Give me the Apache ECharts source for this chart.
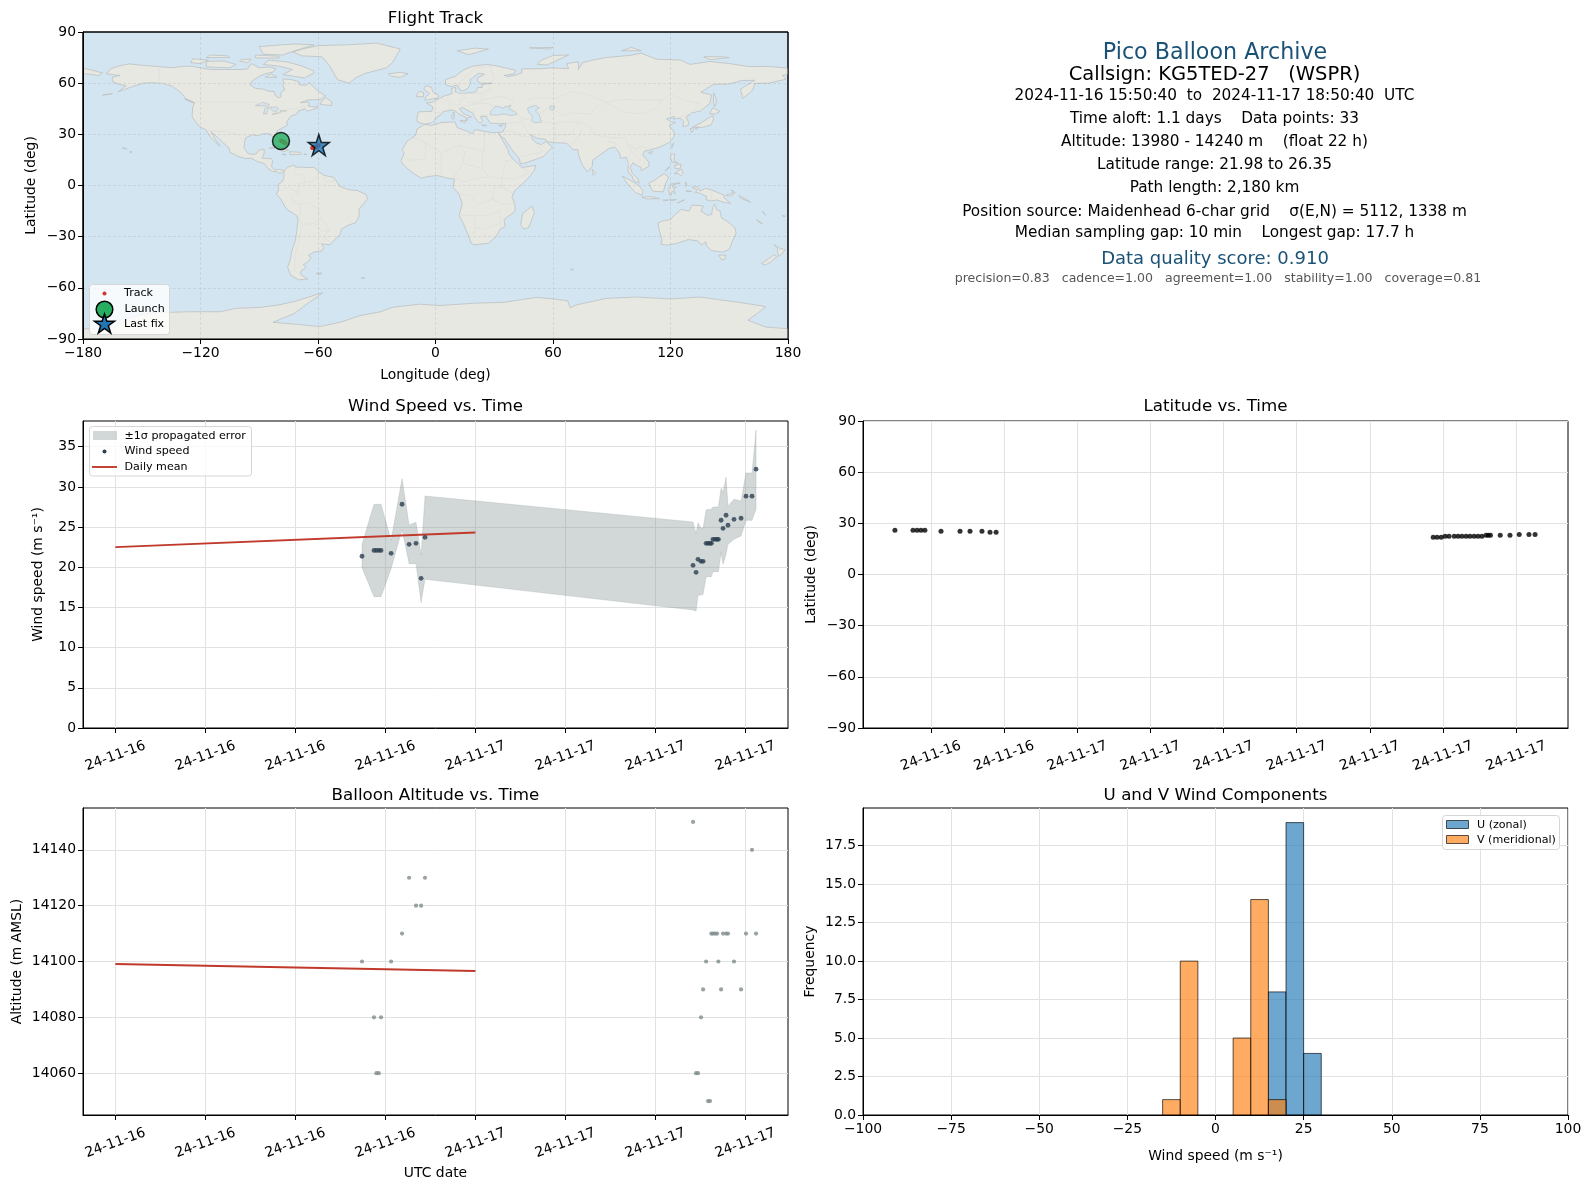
<!DOCTYPE html>
<html><head><meta charset="utf-8">
<style>html,body{margin:0;padding:0;background:#fff}#c{width:1590px;height:1189px}</style>
<script src="https://cdn.jsdelivr.net/npm/echarts@6/dist/echarts.min.js"></script>
</head><body><div id="c"></div>
<script>
// ---------- values ----------
const landPolygons = [
 // North America
 [[-168,65.5],[-166,68.3],[-162,70],[-156.5,71.3],[-150,70.5],[-141,69.7],[-135,69],[-128,70],[-124,69.8],[-115,68],[-108,68],[-100,68],[-96,68.3],[-94,71.5],[-90,69],[-85,69.5],[-81.5,68.5],[-83,66.5],[-87,65.5],[-90,64],[-94,61],[-94.5,58.8],[-92,57],[-88,56.5],[-85,55.3],[-82.3,55.1],[-82,53],[-80,51.3],[-78.8,52.2],[-79,54.5],[-77,56],[-78,58.7],[-77.5,60.5],[-78,62.4],[-74,62.2],[-70,61],[-69.5,59],[-66,58.8],[-64.5,60.3],[-62,57.5],[-60,55.3],[-56,52.5],[-59,50.3],[-65,50.2],[-69,48.5],[-65,49],[-64.5,47.8],[-65,46.5],[-61,46],[-60,46.8],[-60.5,45.5],[-65.5,43.5],[-66.5,45],[-67,44.8],[-70,43.7],[-70.7,42],[-74,40.6],[-75.5,38],[-76,36.8],[-75.7,35.3],[-78,33.9],[-81,32],[-81.4,30],[-80,26.8],[-80.4,25.2],[-81.8,26],[-82.8,28],[-84,30],[-86,30.4],[-89,30.2],[-90,29.1],[-93.5,29.7],[-97,28],[-97.5,25],[-97.8,22.3],[-96,19],[-94,18.2],[-91.5,18.5],[-90.5,20.5],[-87.5,21.4],[-87.5,19],[-88.5,16],[-84,15.8],[-83.2,14.8],[-83.7,11],[-82,9],[-79.5,9.5],[-77.3,8.5],[-78,7.5],[-80,7.3],[-81,8],[-83,8.3],[-85.5,10],[-87.5,13],[-91,14],[-94,16],[-97,15.8],[-101,17.2],[-105,19.5],[-105.5,22],[-109,25.7],[-112.5,29.5],[-114.7,31.5],[-113,28],[-110,23],[-112,25],[-115,28.5],[-117.2,32.6],[-120.5,34.5],[-122.5,37.5],[-124.3,40.3],[-124,46],[-123,48.5],[-127.5,51],[-130,54.5],[-134,58],[-139,59.8],[-145,60.3],[-149,60],[-152,59],[-156,57.5],[-162,55],[-158,58.5],[-162,59.5],[-165,61],[-165,63.5],[-161,64.5]],
 // Greenland and the Arctic islands
 [[-73,78.2],[-68,76],[-58,75.5],[-54,70],[-52,66],[-50,62],[-44,60],[-41,63],[-36,65.7],[-25,69],[-22,72],[-20,76],[-18,80],[-30,83.5],[-45,82.5],[-60,82],[-68,80]],
 [[-62,66],[-67,63],[-72,64],[-78,65],[-73,68],[-80,70],[-88,71],[-85,73.5],[-76,72.5],[-68,70],[-62,67]],
 [[-62,82.5],[-72,83],[-90,81.5],[-88,77],[-78,76.5],[-72,79]],
 [[-105,69],[-117,69.5],[-117,72.8],[-108,73],[-102,71]],
 [[-120,71.5],[-125,72],[-124,74.3],[-116,73.5]],
 [[-80,74.7],[-92,74.8],[-92,76.5],[-80,75.8]],
 [[-105,75],[-117,75],[-115,76.5],[-106,76]],
 [[-100,73],[-96,72],[-94,74],[-99,74]],
 [[-87,63.5],[-81,63.5],[-84,65.5]],
 [[-59,47.7],[-53,46.8],[-53,49],[-56,51.5],[-58,49.5]],
 [[-128,50.7],[-123.5,48.4],[-125,49]],
 [[-170,53],[-165,54],[-166,53.5]],
 // Caribbean, Hawaii
 [[-85,21.8],[-80,23],[-75,20.7],[-77.5,19.9],[-81,22]],
 [[-74.5,19.8],[-69,19.5],[-68.5,18.3],[-74.3,18.2]],
 [[-78.3,18.4],[-76.3,18.1],[-77,17.8]],
 [[-67.2,18.4],[-65.7,18.3],[-66,18]],
 [[-156,20],[-155,19.7],[-155.7,19]],
 [[-160,22],[-157.7,21.4],[-158.5,21.8]],
 // South America
 [[-77.3,8.5],[-75.5,10.7],[-72,12],[-71.5,10.8],[-68,10.7],[-64,10.5],[-62,10.7],[-60,8.5],[-57,6],[-52,4.8],[-50,1.5],[-49,-0.5],[-44.5,-2.5],[-40,-2.9],[-35.3,-5.3],[-34.8,-8],[-37,-11],[-39,-14],[-39,-18],[-41,-22],[-44,-23],[-48,-25.5],[-48.7,-28.5],[-52,-32.5],[-54,-34.7],[-58.3,-34.2],[-57,-36.5],[-58,-38.3],[-62,-39],[-65,-41],[-63.5,-42.5],[-65.5,-45],[-67.5,-46.5],[-66,-48],[-69,-50.5],[-68.5,-52.5],[-65.2,-54.8],[-70,-55.3],[-74,-52.5],[-75.5,-48],[-74,-43],[-73.5,-39],[-71.5,-32],[-71,-28],[-70.2,-20],[-71,-17.5],[-76,-14],[-79,-8],[-81.3,-5],[-80,-2.5],[-80.5,0.5],[-78.8,1.7],[-77.5,4],[-77.4,7]],
 [[-61,-51.5],[-58,-51.3],[-59,-52.3]],
 [[-38,-54],[-36,-54.2],[-37,-54.5]],
 // Africa and Madagascar
 [[-5.8,35.8],[-2,35.2],[3,36.9],[10,37.3],[11,34],[15,32.3],[19,30.3],[20,32.8],[25,31.7],[29,31],[32.3,31.2],[32.5,29.9],[33.5,28],[35.5,24],[37,21],[37.5,18.5],[39.5,15.5],[43,12],[44,10.5],[51.2,11.8],[50.5,9],[48,5],[43,-0.5],[40.5,-3],[39,-6.5],[40.5,-11],[40.7,-15],[35,-20],[35.5,-24],[32.8,-26],[31,-30],[27,-33.8],[20,-34.8],[18.3,-34],[16.5,-28.5],[14.5,-23],[12,-17.5],[13.7,-11],[12,-5],[9,-1],[9.7,3.8],[6,4.3],[1,5.9],[-4,5.2],[-7.5,4.4],[-13,8.5],[-16.7,12.5],[-17.5,14.7],[-16,19],[-17,21],[-14.5,26],[-10,29.5],[-9.5,33]],
 [[49.3,-12],[50.5,-16],[47.5,-24.8],[45,-25.5],[43.5,-23],[44.5,-16.5]],
 // Eurasia
 [[-9,37],[-9.5,39],[-8.8,43.2],[-2,43.4],[-1.2,46],[-4.7,48.4],[-1.5,48.8],[2,51],[4.5,52.5],[8.5,54],[8.2,57],[10.5,57.5],[10,55],[12,54.2],[14,54],[19,54.4],[21,55.3],[21.5,57.5],[24,57.5],[23.5,59.2],[29,60],[23,60],[21.2,61.5],[21.5,63],[25,65.3],[22,65.8],[17.5,62],[18,60],[16.5,57],[14.3,55.5],[12.7,55.8],[11.2,59],[8,58],[5.3,59],[5,62],[10,64],[14,67.5],[19,70],[26,71],[31,70.2],[41,67.5],[40,65.5],[35,64.5],[37,63.9],[40.5,64.6],[44,66],[44,68.4],[54,68.5],[60,69],[68,68.5],[67,71.5],[73,72.5],[73,68],[75,72],[81,73.7],[87,75],[100,76.4],[105,77.6],[113,74],[125,73.6],[130,71],[140,72.7],[150,71.5],[160,69.7],[170,69.8],[180,68.8],[180,65],[177,64.7],[179,62.3],[170,60],[163,59.8],[162,56],[157,51],[155.7,56.5],[163,61.7],[156,61.5],[150,59.5],[142,59.3],[135.5,54.7],[141,53],[140,48],[135.5,43.8],[130.7,42.5],[128,40],[129.3,37],[129,35.2],[126.3,34.5],[126.7,37.7],[125,39.5],[121.5,39],[122,40.5],[118,39],[120,37.5],[122.5,37],[119.3,35],[121.8,31.5],[122,29],[119.5,25.3],[114,22.3],[110,21],[106.5,20],[106,18],[109,13.5],[109,11.3],[105,8.7],[105,10.5],[102.5,12],[100.8,13.4],[99.5,10.5],[100.5,7],[103.3,4],[104,1.4],[101.3,2.8],[100.3,5.5],[98.3,8],[98.5,13],[97.5,16.5],[94.5,16],[94,19],[91.5,22.5],[88.5,21.7],[86.5,20],[82.3,16.5],[80.3,15],[80,11],[77.5,8],[75,12],[73,18],[72.7,21],[70,21],[69,22.5],[67,24.8],[61.5,25.1],[57,25.7],[56.3,27],[51.5,27.8],[48.5,30],[50,26.5],[51.5,25],[54,24],[56.3,25.8],[59.8,22.5],[55,17],[52,15.6],[45,12.9],[43.4,12.7],[42.7,16],[39,21],[35,28],[34.3,27.8],[32.6,30],[32.3,31.2],[34.3,31.3],[35.7,34.5],[36,36.5],[32,36.2],[28,36.6],[26.5,39],[26,40.7],[23,40.4],[24,38],[23,36.5],[21.5,37.5],[19.5,41],[19,42.5],[13.7,45.7],[12.3,45],[14,42.3],[18.4,40.2],[16.5,39.7],[16,38],[15.7,40],[12.5,41.5],[10.3,43.5],[8.5,44.3],[4,43.4],[3,41.8],[0,39.7],[-0.5,38],[-2,36.8],[-5.5,36]],
 [[-180,68.8],[-175,67.5],[-170,66],[-172,64.5],[-178,65.5],[-180,65]],
 // European and Asian islands
 [[-5.5,50],[1.3,51.2],[1.7,52.8],[-1.5,55],[-2,57.5],[-5,58.6],[-6,56.5],[-3,54],[-5,52]],
 [[-10,52],[-6.2,52.2],[-6,54.5],[-8.5,55.2]],
 [[-24,65.5],[-18,66.3],[-14,65.5],[-18,63.4],[-22.5,64]],
 [[11,79],[20,80.5],[27,80],[17,76.7]],
 [[52,71],[57,70.7],[68,76.5],[60,76.2],[54,73.5]],
 [[48,80.7],[60,81],[58,80]],
 [[95,79],[105,79],[100,81]],
 [[137,75.5],[146,75.5],[150,75],[140,73.8]],
 [[12.5,38],[15.6,38.2],[15,36.7]],
 [[8.3,41],[9.7,41],[9.5,39.2],[8.5,39]],
 [[8.7,42.5],[9.5,43],[9.4,41.5]],
 [[23.6,35.5],[26.2,35.2],[24.5,35]],
 [[32.4,35],[34.5,35.6],[33.5,34.7]],
 [[142,54.3],[143,52],[143.5,49],[142.5,46],[142,49]],
 [[140,42],[141.5,45.5],[145.3,43.5],[143,42]],
 [[131,34],[136,37],[140,40],[141.5,41],[142,39],[140.8,35.5],[136,34],[133,34.3]],
 [[130,33.5],[131.8,33],[130.8,31]],
 [[132.5,33.5],[134.5,34.2],[133.5,33]],
 [[120.2,23],[121.7,25],[120.8,22]],
 [[108.8,19.3],[110.8,20],[110,18.3]],
 [[80,9.5],[81.8,7.5],[80.5,6]],
 // Indonesia, Philippines, New Guinea
 [[95.3,5.6],[98,4],[103.8,0],[106,-3],[105.5,-5.8],[102,-4],[98,1]],
 [[105.3,-6.8],[110,-6.5],[114.5,-7.7],[108,-7.9]],
 [[116,-8.5],[119,-8.5],[116.5,-9]],
 [[119.5,-8.5],[123,-8.3],[120,-8.9]],
 [[123.5,-10.3],[127,-8.4],[125,-9.5]],
 [[109,1.5],[111.5,2.8],[116.7,7],[119,5],[117.5,1],[116.3,-3.8],[111,-3.3],[110,-1.5]],
 [[119.5,-5.5],[119,-2.5],[120.5,1],[125,1.5],[121,0.3],[121,-1],[123,-1],[121.5,-2],[122.5,-5],[120.8,-3],[120.5,-5.5]],
 [[120.5,18.5],[122.2,18.4],[121.7,14.5],[124,13],[120.7,13.8],[120,16.2]],
 [[122,7],[125.5,9.7],[126.5,7],[125.4,5.7],[124,7]],
 [[117.2,8.4],[119.5,11.3],[119,10]],
 [[122,11.8],[125.5,12.5],[125,10.2],[122.7,9.7]],
 [[127.5,2],[128.5,1],[128,-0.5]],
 [[128,-3],[130.8,-3.5],[128,-3.5]],
 [[131,-0.8],[134,-0.8],[135,-3.3],[138,-1.7],[141,-2.6],[145,-4.5],[147.8,-6],[147.2,-7],[150.8,-10.5],[147,-9.8],[143.5,-8.5],[141,-9],[138,-8.3],[138.5,-6.5],[135,-4.5],[132.7,-4],[133.8,-2.5],[131.5,-1.5]],
 [[148.5,-5.7],[152,-4.2],[152,-5.5],[149.5,-6.3]],
 [[150.8,-2.7],[153,-4.5],[152.5,-3.5]],
 [[155,-6],[160,-9],[161,-10],[156,-7.5]],
 [[167,-15],[167.8,-16.5],[168.5,-17.5]],
 [[164,-20],[167,-22.3],[165,-21.5]],
 [[177.3,-17.5],[178.6,-18],[177.5,-18.3]],
 // Australia, New Zealand, southern islands
 [[113.5,-22],[114.2,-26],[115.7,-32],[115,-34.3],[118,-35],[123.5,-33.9],[129,-31.7],[134,-32.5],[135.8,-35],[138,-33],[138.5,-35.5],[141,-38.2],[146.5,-39],[150,-37.5],[151.5,-33],[153.5,-28],[153,-25],[149,-21],[146,-19],[145.3,-15],[143.5,-14],[142.5,-10.8],[141.5,-13],[141,-17],[139,-17.5],[135.5,-15],[136.8,-12],[131,-11.5],[129.5,-15],[125.5,-14],[122,-17.5],[120,-20],[116,-20.8]],
 [[144.7,-40.8],[148.2,-40.8],[147.7,-43.3],[146,-43.5]],
 [[172.8,-34.5],[175.5,-36.7],[178.5,-37.7],[176.8,-40],[175.2,-41.6],[174.7,-39],[174.7,-37]],
 [[172.7,-40.6],[174.3,-41.7],[171,-45],[168.3,-46.6],[166.5,-45.8],[170,-43]],
 [[69,-49],[70.5,-49.2],[69.5,-49.7]],
 // Antarctica
 [[-180,-90],[-180,-84],[-165,-84],[-157,-78],[-150,-75.5],[-140,-74.5],[-125,-74],[-110,-74],[-101.7,-72],[-90,-71.5],[-80,-70],[-72,-68],[-65,-65.5],[-57.6,-62.8],[-60,-65],[-64,-68],[-67.8,-71.4],[-72,-75],[-83,-80.2],[-70,-81.5],[-59,-82.7],[-48,-80],[-38.7,-76.3],[-28,-74],[-21.8,-71.4],[-8,-69.6],[2,-70.4],[20,-69],[35,-68.5],[51.5,-65.6],[60,-66.5],[67.5,-67.6],[68.7,-71.7],[72,-70],[80,-68],[87,-66.2],[102.7,-65.4],[120,-66.5],[135,-65.4],[145,-67],[153.7,-68.3],[168.7,-71],[163.7,-75.6],[159.5,-79],[168.7,-83],[180,-84],[180,-90]]
];
const lakePolygons = [
 [[28,41.5],[31,41.2],[35,42],[38,41],[41.5,41.6],[41,43],[37.5,45],[38.5,47],[35,46],[35,45.2],[33,46],[30.7,46.5],[28,43.5]],
 [[47,45.5],[51,47],[53,45.5],[51,44],[53,41.5],[54,37.2],[51,36.7],[49,38],[49.5,40.5],[47.5,43]],
 [[58.5,46.5],[61,46.5],[60,44],[58.5,44.5]],
 [[-92,46.8],[-88,48.8],[-85,47.5],[-85,46.6],[-88,46.7]],
 [[-87.8,42],[-86.3,42],[-85,45.8],[-87,45.5]],
 [[-84.5,45.8],[-81,46],[-80,44.7],[-82,43.2],[-83.5,44]],
 [[-83.3,41.7],[-79,42.8],[-80,42.7]],
 [[-79.5,43.4],[-76.3,43.6],[-76.3,44.1],[-79,43.9]]
];
const borderLines = [
 [[-123,49],[-95,49],[-89,48],[-83,46],[-82.5,42.5],[-79,43],[-75,45],[-71,45],[-67,47],[-67,45]],
 [[-141,69.7],[-141,60],[-135,59],[-130,55]],
 [[-117,32.5],[-108,31.5],[-106.5,31.7],[-101,29.5],[-97.5,26]],
 [[-60,5],[-64,2],[-70,1],[-70,-4],[-74,-7.5],[-70,-11],[-65,-10],[-60,-14],[-58,-20],[-55,-24],[-54,-26],[-57.5,-30],[-53.5,-33.5]],
 [[-72,11.5],[-72,7],[-67,6],[-67,1.5]],
 [[-80,-3.5],[-75,-1],[-70,-4]],
 [[-69,-11],[-69,-16],[-70,-18],[-68,-23],[-70,-33],[-71.5,-40],[-72,-50],[-68.5,-52.5]],
 [[-68,-23],[-62,-22],[-58,-27],[-54,-26]],
 [[-62,-22],[-58,-20]],
 [[-57,6],[-56,2],[-52,2.5],[-52,4.8]],
 [[-60,8.5],[-60,5]],
 [[-8.7,27.5],[3,19],[12,23.5],[25,20],[25,31.5]],
 [[-13,27.7],[-8.7,27.5],[-5,25],[-5,15.5],[-12,14.8],[-16,16]],
 [[3,19],[3,12],[3,6.3]],
 [[12,23.5],[15,20],[14,13],[9,4.3]],
 [[14,13],[24,10],[24,20]],
 [[24,10],[27,5],[34,4.3],[36,14.5],[39,15]],
 [[34,4.3],[41,3.8],[48,8],[43,11]],
 [[34,4.3],[34,-1],[39.5,-4.7]],
 [[34,-1],[30,-1],[29,-8],[34,-11],[40.5,-10.7]],
 [[12,-5],[18,-6],[22,-11],[29,-8]],
 [[12,-17.5],[25,-17.8],[33,-15],[33,-25],[32.8,-26]],
 [[20,-18],[20,-28],[16.8,-28.5]],
 [[20,-25],[25,-25.5],[32,-22.5]],
 [[9,4.3],[15,2],[18,3.5],[27,5]],
 [[-1.7,43.3],[3,42.5]],
 [[2.5,51],[6,49.5],[8,48.8],[7.5,47.5],[7,44]],
 [[6,51],[7,53.5]],
 [[8.5,54.9],[14.2,54],[15,51],[12.3,50],[13,47.7],[9.6,47.5]],
 [[14.2,54],[23.5,54],[24,50.5],[22,49],[17,48.7],[15,51]],
 [[23.5,54],[28,56],[27.5,59.5]],
 [[24,50.5],[30,51.5],[34,52.3],[40,49.7],[38,47]],
 [[22,48],[27,48],[30,46]],
 [[13.7,46.5],[22,48]],
 [[20,46],[19,42.5]],
 [[22.5,41],[26,41.5]],
 [[12,60],[20,69]],
 [[20,69],[28,69.8],[30,62],[28,60.5]],
 [[36,36.5],[44,37],[44.5,39.5],[41.5,41.5]],
 [[44.5,39.5],[48,38.5]],
 [[44,37],[46,33],[48,30]],
 [[35,29.5],[36,32],[39,32],[44,29],[48,28.5]],
 [[52,24],[55,20],[52,19],[52,15.6]],
 [[43,17],[52,19]],
 [[47,50],[51,51.5],[61,51],[70,55],[77,53.5],[87,49],[98,50.5],[107,50],[116,50],[120,53.5],[127,50],[135,48],[131,43]],
 [[87,49],[96,43],[105,42],[112,45],[116,50]],
 [[53,42],[58,45.5],[66,41],[70,42.5],[80,42],[80.5,45],[87,49]],
 [[54,37.2],[61,36.5],[61,31],[61.5,25.1]],
 [[61,36.5],[66,37.3],[74,37],[71,34],[70,30],[61,29.5]],
 [[74,37],[78,35],[81,30],[88,28],[97,28],[98,24],[102,21.5],[106,23],[108,21.5]],
 [[74.5,33],[74,30],[71,26],[69,23.5]],
 [[88,26],[92,25],[92,21.5]],
 [[98,24],[100,20],[98,16],[99,11]],
 [[102,21.5],[105,18],[107.5,15],[105,11]],
 [[100,20],[105,15],[102.5,12]],
 [[124.5,40],[130.5,42.4]],
 [[125,38],[128.5,38.5]],
 [[141,-2.6],[141,-9]]
];
const trackLon = [-78.9,-78.6,-78.3,-78.1,-77.9,-77.7,-77.5,-77.3,-77.1,-76.9,-76.7,-76.5,-63,-62.8,-62.6,-62.4,-62.2,-62,-61.8,-61.7,-61.5,-61.3,-61.2,-61,-60.9,-60.7,-60.6,-60.4,-60.3,-60.1,-60,-59.8,-59.6];
const trackLat = [26.35,25.9,25.9,25.9,25.9,25.3,25.3,25.3,25.3,24.7,24.7,24.7,22,22,22,22.4,22.4,22.4,22.4,22.4,22.4,22.4,22.4,22.4,22.4,22.4,23,23,23,23,23.5,23.5,23.7];
const launchPoint = [-78.9,26.1];
const lastFixPoint = [-59.6,23.7];

const windHours = [16.44,17.24,17.40,17.56,17.71,18.38,19.11,19.58,20.04,20.38,20.64,38.51,38.71,38.84,39.04,39.18,39.38,39.51,39.64,39.73,39.84,39.98,40.11,40.20,40.38,40.51,40.71,40.84,41.24,41.71,42.04,42.44,42.71];
const windSpeed = [21.37,22.1,22.1,22.1,22.1,21.74,27.84,22.86,22.98,18.63,23.73,20.24,19.37,20.99,20.74,20.74,22.98,22.98,22.98,22.98,23.48,23.48,23.48,23.48,25.85,24.85,26.47,25.23,25.97,26.1,28.84,28.84,32.2];
const windUpper = [22.86,27.84,27.84,27.84,27.84,23.35,31.03,25.26,25.6,21.53,28.87,25.64,24.18,25.55,24.85,24.85,27.13,27.2,27.2,27.25,27.5,27.5,27.5,27.5,29.83,29.29,31.24,27.63,28.46,28.25,31.74,31.74,37.09];
const windLower = [19.95,16.34,16.34,16.34,16.34,19.83,24.7,20.45,20.45,15.59,18.5,14.68,14.55,16.5,16.55,16.63,18.83,18.83,18.83,18.83,19.45,19.45,19.45,19.45,21.82,20.37,21.61,22.86,23.48,23.9,25.84,25.84,27.21];
const windMeanHours = [0,24];
const windMean = [22.5,24.33];

const latHours = [16.52,17.26,17.43,17.59,17.75,18.41,19.19,19.6,20.09,20.42,20.67,38.6,38.76,38.93,39.09,39.25,39.46,39.62,39.78,39.95,40.11,40.28,40.44,40.6,40.77,40.86,40.95,41.35,41.75,42.13,42.53,42.78];
const latValues = [25.9,25.9,25.9,25.9,25.9,25.3,25.3,25.3,25.3,24.7,24.7,21.9,21.9,21.9,22.4,22.4,22.4,22.4,22.4,22.4,22.4,22.4,22.4,22.4,23,23,23,23,23,23.5,23.5,23.5];

const altHours = [16.44,18.38,17.24,17.71,17.40,17.56,19.11,19.58,20.64,20.04,20.38,38.51,38.71,38.84,39.04,39.18,39.38,39.51,39.64,39.73,39.84,39.98,40.11,40.20,40.38,40.51,40.71,40.84,41.24,41.71,42.04,42.44,42.71];
const altValues = [14100,14100,14080,14080,14060,14060,14110,14130,14130,14120,14120,14150,14060,14060,14080,14090,14100,14050,14050,14110,14110,14110,14110,14100,14090,14110,14110,14110,14100,14090,14110,14140,14110];
const altMeanHours = [0,24];
const altMean = [14099.1,14096.6];

const histBinStart = [-15,-10,-5,0,5,10,15,20,25];
const histBinWidth = 5;
const uCounts = [0,0,0,0,0,0,8,19,4];
const vCounts = [1,10,0,0,5,14,1,0,0];

const mapLonTicks = [-180,-120,-60,0,60,120,180];
const mapLatTicks = [-90,-60,-30,0,30,60,90];
const wideTimeTicks = [0,6,12,18,24,30,36,42];
const wideTimeLabels = ['24-11-16','24-11-16','24-11-16','24-11-16','24-11-17','24-11-17','24-11-17','24-11-17'];
const latTimeTicks = [18,21,24,27,30,33,36,39,42];
const latTimeLabels = ['24-11-16','24-11-16','24-11-17','24-11-17','24-11-17','24-11-17','24-11-17','24-11-17','24-11-17'];
const windTicks = [0,5,10,15,20,25,30,35];
const altTicks = [14060,14080,14100,14120,14140];
const histXTicks = [-100,-75,-50,-25,0,25,50,75,100];
const histYTicks = [0,2.5,5,7.5,10,12.5,15,17.5];

const infoHead = 'Pico Balloon Archive';
const infoCall = 'Callsign: KG5TED-27   (WSPR)';
const infoLines = [
 '2024-11-16 15:50:40  to  2024-11-17 18:50:40  UTC',
 'Time aloft: 1.1 days    Data points: 33',
 'Altitude: 13980 - 14240 m    (float 22 h)',
 'Latitude range: 21.98 to 26.35',
 'Path length: 2,180 km',
 'Position source: Maidenhead 6-char grid    σ(E,N) = 5112, 1338 m',
 'Median sampling gap: 10 min    Longest gap: 17.7 h'
];
const infoScore = 'Data quality score: 0.910';
const infoSub = 'precision=0.83   cadence=1.00   agreement=1.00   stability=1.00   coverage=0.81';

// ---------- styling and helpers ----------
const FONT = '"DejaVu Sans"';
const OCEAN = '#d3e5f1', LAND = '#e8e8e3', COAST = '#bcc0c0', BORDER = '#dcdddA';
const NAVY = '#1a5276';
const BAND = 'rgba(127,140,141,0.35)';
const STAR_UNIT = [[50,0],[61.2,34.5],[97.6,34.5],[68.2,55.9],[79.4,90.5],[50,69.1],[20.6,90.5],[31.8,55.9],[2.4,34.5],[38.8,34.5]];
const STAR = 'path://M' + STAR_UNIT.map(p => p.join(',')).join(' L') + ' Z';
const BOXES = [
 {left:83,top:32},{left:83,top:421},{left:863,top:421},{left:83,top:808},{left:863,top:808}
];
const W = 705, H = 307;
const grids = BOXES.map(b => ({left:b.left, top:b.top, width:W, height:H, show:true, borderColor:'#000', borderWidth:1,
  backgroundColor:'#fff', containLabel:false, outerBoundsMode:'none'}));
grids[0].backgroundColor = OCEAN;
const minus = s => String(s).replace('-', '\u2212');
const GRIDLINE = {show:true, lineStyle:{color:'#e2e2e2', width:1}};

function axisCommon(idx, ticks, fmt, extra) {
  return Object.assign({type:'value', gridIndex:idx, scale:false,
    axisLine:{show:true, onZero:false, lineStyle:{color:'#000', width:1}},
    axisTick:{show:true, length:5, customValues:ticks, lineStyle:{color:'#000', width:1}},
    axisLabel:{show:true, customValues:ticks, formatter:fmt, color:'#000', fontFamily:FONT, fontSize:13.9, margin:7, hideOverlap:false},
    splitLine:GRIDLINE, minorTick:{show:false}, nameLocation:'middle',
    nameTextStyle:{color:'#000', fontFamily:FONT, fontSize:13.9, verticalAlign:'middle'}}, extra);
}
function timeAxis(idx, ticks, labels, min, max, name, gap) {
  const ax = axisCommon(idx, ticks, v => labels[ticks.indexOf(v)], {min, max, name, nameGap:gap});
  Object.assign(ax.axisLabel, {rotate:20, align:'center', verticalAlign:'middle', margin:28});
  return ax;
}
const mapGrid = {show:true, lineStyle:{color:'rgba(120,120,120,0.2)', width:0.8, type:[3,2]}};
const xAxes = [
 axisCommon(0, mapLonTicks, minus, {min:-180, max:180, name:'Longitude (deg)', nameGap:36, splitLine:mapGrid, z:3}),
 timeAxis(1, wideTimeTicks, wideTimeLabels, -2.16, 44.84, '', 0),
 timeAxis(2, latTimeTicks, latTimeLabels, 15.21, 44.13, '', 0),
 timeAxis(3, wideTimeTicks, wideTimeLabels, -2.16, 44.84, 'UTC date', 58),
 axisCommon(4, histXTicks, minus, {min:-100, max:100, name:'Wind speed (m s\u207B\u00B9)', nameGap:41})
];
const yAxes = [
 axisCommon(0, mapLatTicks, minus, {min:-90, max:90, name:'Latitude (deg)', nameGap:52, splitLine:mapGrid, z:3}),
 axisCommon(1, windTicks, v => String(v), {min:0, max:38.2, name:'Wind speed (m s\u207B\u00B9)', nameGap:45}),
 axisCommon(2, mapLatTicks, minus, {min:-90, max:90, name:'Latitude (deg)', nameGap:52}),
 axisCommon(3, altTicks, v => String(v), {min:14045, max:14155, name:'Altitude (m AMSL)', nameGap:66}),
 axisCommon(4, histYTicks, v => v.toFixed(1), {min:0, max:19.95, name:'Frequency', nameGap:53})
];

function shapeSeries(name, list, kind, style, z) {
  return {type:'custom', name, xAxisIndex:0, yAxisIndex:0, silent:true, z, clip:true, animation:false,
    data:list.map((_, i) => [i]), encode:{x:0},
    renderItem:(p, api) => ({type:kind, shape:{points:list[api.value(0)].map(c => api.coord(c))}, style})};
}
function scatter(name, axis, xs, ys, color, size, z) {
  return {type:'scatter', name, xAxisIndex:axis, yAxisIndex:axis, data:xs.map((x, i) => [x, ys[i]]),
    symbolSize:size, itemStyle:{color}, z:z||4, silent:true, animation:false};
}
function meanLine(name, axis, xs, ys) {
  return {type:'line', name, xAxisIndex:axis, yAxisIndex:axis, data:xs.map((x, i) => [x, ys[i]]),
    showSymbol:false, lineStyle:{color:'#c0392b', width:1.9}, z:3, silent:true, animation:false};
}
function histSeries(name, counts, fill, z) {
  const rows = [];
  histBinStart.forEach((s, i) => { if (counts[i] > 0) rows.push([s, s + histBinWidth, counts[i]]); });
  return {type:'custom', name, xAxisIndex:4, yAxisIndex:4, silent:true, z, animation:false, data:rows, encode:{x:[0,1], y:2},
    renderItem:(p, api) => {
      const a = api.coord([api.value(0), api.value(2)]), b = api.coord([api.value(1), 0]);
      return {type:'rect', shape:{x:a[0], y:a[1], width:b[0]-a[0], height:b[1]-a[1]},
        style:{fill, stroke:'rgba(0,0,0,0.65)', lineWidth:1}};
    }};
}
const bandPoints = windHours.map((h, i) => [h, windUpper[i]]).concat(windHours.map((h, i) => [h, windLower[i]]).reverse());

const series = [
 shapeSeries('Land', landPolygons, 'polygon', {fill:LAND, stroke:COAST, lineWidth:0.8}, 1),
 shapeSeries('Lakes', lakePolygons, 'polygon', {fill:OCEAN, stroke:COAST, lineWidth:0.7}, 2),
 shapeSeries('Borders', borderLines, 'polyline', {fill:'none', stroke:BORDER, lineWidth:0.7}, 2),
 scatter('Track', 0, trackLon, trackLat, '#d0392b', 4, 5),
 Object.assign(scatter('Launch', 0, [launchPoint[0]], [launchPoint[1]], '#27ae60', 17, 6), {itemStyle:{color:'#27ae60', borderColor:'#000', borderWidth:1.5}}),
 Object.assign(scatter('Last fix', 0, [lastFixPoint[0]], [lastFixPoint[1]], '#1f77b4', 21, 7), {symbol:STAR, itemStyle:{color:'#1f77b4', borderColor:'#000', borderWidth:1.5}}),
 {type:'custom', name:'\u00B11\u03C3 propagated error', xAxisIndex:1, yAxisIndex:1, silent:true, z:2, animation:false, data:[[0]], encode:{x:0},
  renderItem:(p, api) => ({type:'polygon', shape:{points:bandPoints.map(c => api.coord(c))},
    style:{fill:BAND, stroke:'rgba(127,140,141,0.2)', lineWidth:1}})},
 meanLine('Daily mean', 1, windMeanHours, windMean),
 scatter('Wind speed', 1, windHours, windSpeed, '#2c3e50', 4.8),
 scatter('Latitude', 2, latHours, latValues, '#000', 5),
 meanLine('Altitude daily mean', 3, altMeanHours, altMean),
 scatter('Altitude', 3, altHours, altValues, '#7f8c8d', 4.2),
 histSeries('U (zonal)', uCounts, 'rgba(31,119,180,0.65)', 3),
 histSeries('V (meridional)', vCounts, 'rgba(255,127,14,0.65)', 4)
];

const titles = [['Flight Track',435.5,18.5],['Wind Speed vs. Time',435.5,407],['Latitude vs. Time',1215.5,407],['Balloon Altitude vs. Time',435.5,796],['U and V Wind Components',1215.5,796]];
const els = [];
function txt(t, x, y, size, color, align) {
  els.push({type:'text', z:100, silent:true, style:{text:t, x, y, fontFamily:FONT, fontSize:size, fill:color||'#000', align:align||'center', verticalAlign:'middle'}});
}
titles.forEach(t => txt(t[0], t[1], t[2], 16.7));
txt(infoHead, 1215, 53, 22.2, NAVY);
txt(infoCall, 1214.5, 75, 19.5);
[96,119.3,142.5,165,188.3,211.7,233.5].forEach((y, i) => txt(infoLines[i], 1214.5, y, 15.3));
txt(infoScore, 1215, 259.5, 18, NAVY);
txt(infoSub, 1218, 278.8, 12.55, '#555');

function box(x, y, w, h) {
  els.push({type:'rect', z:90, silent:true, shape:{x, y, width:w, height:h, r:3}, style:{fill:'rgba(255,255,255,0.8)', stroke:'#d6d6d6', lineWidth:1}});
}
function patch(x, y, w, h, fill, stroke) {
  els.push({type:'rect', z:91, silent:true, shape:{x, y, width:w, height:h}, style:{fill, stroke:stroke||'none', lineWidth:1}});
}
// map frame above the land
els.push({type:'rect', z:80, silent:true, shape:{x:83, y:32, width:W, height:H}, style:{fill:'none', stroke:'#000', lineWidth:1}});
// map legend
box(89.5, 284.5, 80, 50);
els.push({type:'circle', z:91, silent:true, shape:{cx:104.5, cy:293.5, r:2}, style:{fill:'#d0392b'}});
els.push({type:'circle', z:91, silent:true, shape:{cx:104.5, cy:309.5, r:8.3}, style:{fill:'#27ae60', stroke:'#000', lineWidth:1.5}});
els.push({type:'polygon', z:92, silent:true, shape:{points:STAR_UNIT.map(p => [94 + p[0]*0.21, 314 + p[1]*0.21])}, style:{fill:'#1f77b4', stroke:'#000', lineWidth:1.5}});
txt('Track', 124, 293.5, 11.1, '#000', 'left');
txt('Launch', 124.5, 309.5, 11.1, '#000', 'left');
txt('Last fix', 124, 324.5, 11.1, '#000', 'left');
// wind legend
box(89.5, 426.5, 162, 49.5);
patch(93, 431, 24, 9, BAND);
els.push({type:'circle', z:91, silent:true, shape:{cx:104.5, cy:451.5, r:2}, style:{fill:'#2c3e50'}});
els.push({type:'line', z:91, silent:true, shape:{x1:92, y1:467, x2:117, y2:467}, style:{stroke:'#c0392b', lineWidth:1.9}});
txt('\u00B11\u03C3 propagated error', 124.5, 436.5, 11.1, '#000', 'left');
txt('Wind speed', 124.5, 451.5, 11.1, '#000', 'left');
txt('Daily mean', 124.5, 467, 11.1, '#000', 'left');
// histogram legend
box(1442.5, 815.5, 117, 34);
patch(1446.5, 820.5, 22, 8, 'rgba(31,119,180,0.65)', 'rgba(0,0,0,0.65)');
patch(1446.5, 835.5, 22, 8, 'rgba(255,127,14,0.65)', 'rgba(0,0,0,0.65)');
txt('U (zonal)', 1477, 825, 11.1, '#000', 'left');
txt('V (meridional)', 1477, 840, 11.1, '#000', 'left');

const chart = echarts.init(document.getElementById('c'), null, {width:1590, height:1189, devicePixelRatio:1});
chart.setOption({animation:false, backgroundColor:'#fff', grid:grids, xAxis:xAxes, yAxis:yAxes, series, graphic:{elements:els}, tooltip:{show:false}});
</script>
</body></html>
